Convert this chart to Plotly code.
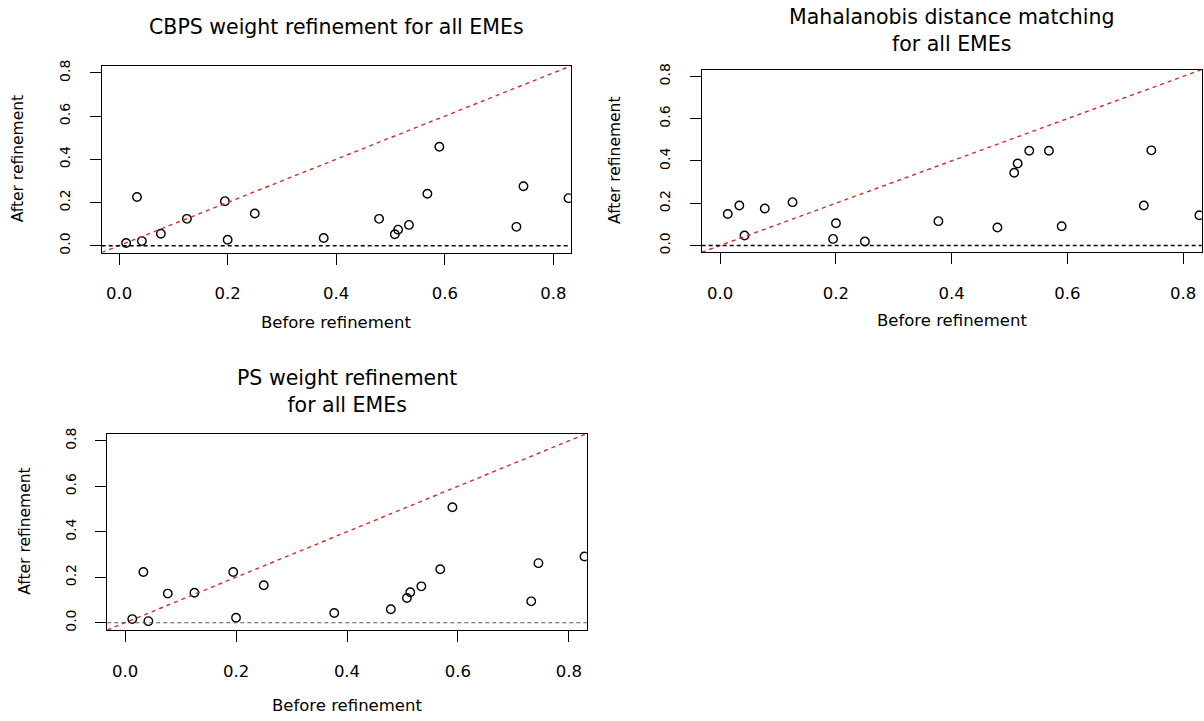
import plotly.graph_objects as go

# ---------------- data ----------------
before_refinement = [0.013, 0.033, 0.042, 0.077, 0.125, 0.195, 0.200, 0.250, 0.377,
                     0.479, 0.508, 0.514, 0.534, 0.568, 0.590, 0.732, 0.745, 0.828]
cbps_after = [0.012, 0.225, 0.021, 0.055, 0.124, 0.206, 0.027, 0.149, 0.035,
              0.124, 0.053, 0.074, 0.096, 0.240, 0.458, 0.087, 0.275, 0.220]
maha_after = [0.149, 0.189, 0.047, 0.175, 0.205, 0.031, 0.105, 0.019, 0.115,
              0.085, 0.344, 0.388, 0.448, 0.448, 0.091, 0.189, 0.450, 0.143]
ps_after = [0.016, 0.223, 0.007, 0.128, 0.132, 0.223, 0.022, 0.165, 0.043,
            0.059, 0.109, 0.134, 0.160, 0.235, 0.508, 0.094, 0.262, 0.291]

panel_titles = ["CBPS weight refinement for all EMEs",
                "Mahalanobis distance matching<br>for all EMEs",
                "PS weight refinement<br>for all EMEs"]
x_title = "Before refinement"
y_title = "After refinement"
tick_values = [0.0, 0.2, 0.4, 0.6, 0.8]
tick_labels = ["0.0", "0.2", "0.4", "0.6", "0.8"]

# ---------------- layout constants ----------------
W, H = 1204, 721
AX_RANGE = [-0.032, 0.832]
FONT = "DejaVu Sans"
# pixel boxes (left, top, right, bottom)
boxes = [(101.7, 60.7, 570.7, 249.3),
         (701.7, 64.3, 1201.7, 249.0),
         (107.3, 432.3, 586.7, 631.0)]
title_cy = [21, 25, 390]
xtitle_cy = [320, 318, 707]
ytitle_cx = [18, 615, 25]
zero_line_styles = [dict(color="black", width=1.5, dash="4px,3px"),
                    dict(color="black", width=1.5, dash="4px,3px"),
                    dict(color="#555555", width=1.1, dash="4px,3px")]
series = [cbps_after, maha_after, ps_after]

fig = go.Figure()
annotations = []
shapes = []

for i, (ys, box) in enumerate(zip(series, boxes)):
    n = "" if i == 0 else str(i + 1)
    xa, ya = "x" + n, "y" + n
    l, t, r, b = box
    fig.add_trace(go.Scatter(
        x=before_refinement, y=ys, mode="markers", xaxis=xa, yaxis=ya,
        marker=dict(symbol="circle-open", size=8.5, color="black",
                    line=dict(width=1.4, color="black")),
        showlegend=False, cliponaxis=True))
    axis_common = dict(range=AX_RANGE, showgrid=False, zeroline=False,
                       showline=True, mirror=True, linecolor="black", linewidth=1.3,
                       ticks="outside", ticklen=11, tickwidth=1.3, tickcolor="black",
                       tickvals=tick_values, ticktext=tick_labels, fixedrange=True)
    fig.update_layout(**{
        "xaxis" + n: dict(axis_common, domain=[l / W, r / W], anchor=ya,
                          ticklabelstandoff=15,
                          tickfont=dict(family=FONT, size=16.5, color="black")),
        "yaxis" + n: dict(axis_common, domain=[1 - b / H, 1 - t / H], anchor=xa,
                          tickangle=-90, ticklabelstandoff=14,
                          tickfont=dict(family=FONT, size=14, color="black")),
    })
    # y = x reference line and zero line
    shapes.append(dict(type="line", xref=xa, yref=ya,
                       x0=AX_RANGE[0], y0=AX_RANGE[0], x1=AX_RANGE[1], y1=AX_RANGE[1],
                       line=dict(color="#d42a2a", width=1.4, dash="4px,4px")))
    shapes.append(dict(type="line", xref=xa + " domain", yref=ya,
                       x0=0, x1=1, y0=0, y1=0, line=zero_line_styles[i]))
    cx = (l + r) / 2
    cy = (t + b) / 2
    annotations.append(dict(text=panel_titles[i], x=cx / W, y=1 - title_cy[i] / H,
                            xref="paper", yref="paper", showarrow=False,
                            xanchor="center", yanchor="middle",
                            font=dict(family=FONT, size=20.5, color="black")))
    annotations.append(dict(text=x_title, x=cx / W, y=1 - xtitle_cy[i] / H,
                            xref="paper", yref="paper", showarrow=False,
                            xanchor="center", yanchor="middle",
                            font=dict(family=FONT, size=16.5, color="black")))
    annotations.append(dict(text=y_title, x=ytitle_cx[i] / W, y=1 - cy / H,
                            xref="paper", yref="paper", showarrow=False,
                            xanchor="center", yanchor="middle", textangle=-90,
                            font=dict(family=FONT, size=15.5, color="black")))

fig.update_layout(width=W, height=H, autosize=False,
                  margin=dict(l=0, r=0, t=0, b=0),
                  paper_bgcolor="white", plot_bgcolor="white",
                  shapes=shapes, annotations=annotations,
                  font=dict(family=FONT, color="black"))

fig.write_html("out.html")
